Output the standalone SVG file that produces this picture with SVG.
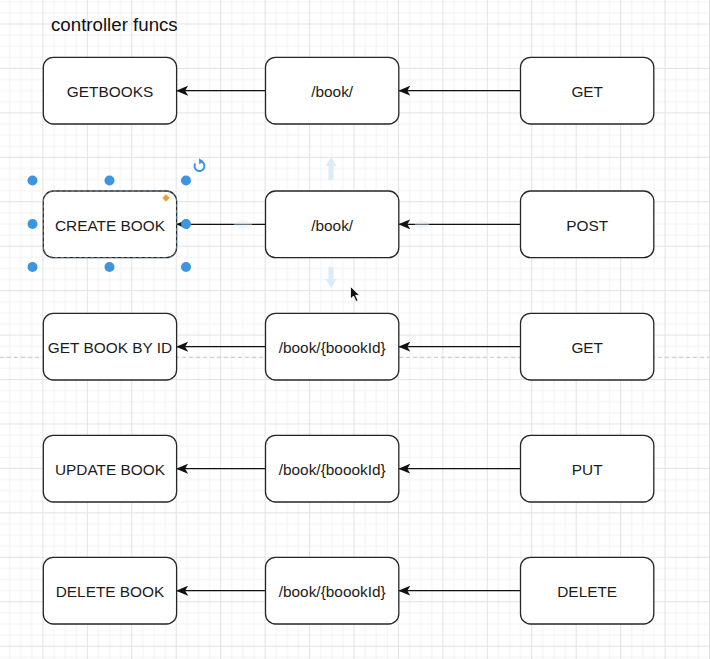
<svg xmlns="http://www.w3.org/2000/svg" width="710" height="659" viewBox="0 0 710 659">
  <style>
    .box { fill: #ffffff; stroke: #262626; stroke-width: 1.3; }
    .lbl { font-family: "Liberation Sans", Arial, sans-serif; font-size: 15.4px; fill: #1c1c1c; text-anchor: middle; }
    .title { font-family: "Liberation Sans", Arial, sans-serif; font-size: 18.7px; fill: #111111; }
    .edge { stroke: #111111; stroke-width: 1.3; fill: none; marker-end: url(#classic); }
    .handle { fill: #3d95e0; }
  </style>
  <defs>
    <!-- editor grid: minor every 11.11px, major every 44.44px -->
    <pattern id="grid" patternUnits="userSpaceOnUse" x="42.4" y="23.5" width="44.44" height="44.44">
      <rect x="0" y="0" width="44.44" height="44.44" fill="#ffffff"/>
      <g fill="#f3f3f3">
        <rect x="11.11" y="0" width="1" height="44.44"/>
        <rect x="22.22" y="0" width="1" height="44.44"/>
        <rect x="33.33" y="0" width="1" height="44.44"/>
        <rect x="0" y="11.11" width="44.44" height="1"/>
        <rect x="0" y="22.22" width="44.44" height="1"/>
        <rect x="0" y="33.33" width="44.44" height="1"/>
      </g>
      <g fill="#e3e3e3">
        <rect x="0" y="0" width="1" height="44.44"/>
        <rect x="0" y="0" width="44.44" height="1"/>
      </g>
    </pattern>
    <marker id="classic" viewBox="0 0 12 10" refX="11.5" refY="5" markerWidth="12" markerHeight="10" markerUnits="userSpaceOnUse" orient="auto">
      <path d="M0,0 L12,5 L0,10 L3,5 Z" fill="#111111"/>
    </marker>
  </defs>

  <!-- canvas -->
  <rect x="0" y="0" width="710" height="659" fill="url(#grid)"/>
  <!-- page break -->
  <line x1="0" y1="357.3" x2="710" y2="357.3" stroke="#c8c8c8" stroke-width="1" stroke-dasharray="4 3"/>

  <text class="title" x="51" y="30.5">controller funcs</text>

  <!-- connectors -->
  <g id="edges">
    <line class="edge" x1="520.5" y1="90.7" x2="398.8" y2="90.7"/>
    <line class="edge" x1="265.5" y1="90.7" x2="176.6" y2="90.7"/>
    <line class="edge" x1="520.5" y1="224.3" x2="398.8" y2="224.3"/>
    <line class="edge" x1="265.5" y1="224.3" x2="176.6" y2="224.3"/>
    <line class="edge" x1="520.5" y1="346.7" x2="398.8" y2="346.7"/>
    <line class="edge" x1="265.5" y1="346.7" x2="176.6" y2="346.7"/>
    <line class="edge" x1="520.5" y1="468.7" x2="398.8" y2="468.7"/>
    <line class="edge" x1="265.5" y1="468.7" x2="176.6" y2="468.7"/>
    <line class="edge" x1="520.5" y1="590.7" x2="398.8" y2="590.7"/>
    <line class="edge" x1="265.5" y1="590.7" x2="176.6" y2="590.7"/>
  </g>

  <!-- row 1 -->
  <g id="getbooks"><rect class="box" x="43.3" y="57.3" width="133.3" height="66.7" rx="10"/><text class="lbl" x="110" y="97.3">GETBOOKS</text></g>
  <g id="route1"><rect class="box" x="265.5" y="57.3" width="133.3" height="66.7" rx="10"/><text class="lbl" x="332.2" y="97.3">/book/</text></g>
  <g id="get1"><rect class="box" x="520.5" y="57.3" width="133.3" height="66.7" rx="10"/><text class="lbl" x="587.2" y="97.3">GET</text></g>

  <!-- row 2 -->
  <g id="createbook"><rect class="box" x="43.3" y="191" width="133.3" height="66.7" rx="10"/><text class="lbl" x="110" y="230.9">CREATE BOOK</text></g>
  <g id="route2"><rect class="box" x="265.5" y="191" width="133.3" height="66.7" rx="10"/><text class="lbl" x="332.2" y="230.9">/book/</text></g>
  <g id="post"><rect class="box" x="520.5" y="191" width="133.3" height="66.7" rx="10"/><text class="lbl" x="587.2" y="230.9">POST</text></g>

  <!-- row 3 -->
  <g id="getbookbyid"><rect class="box" x="43.3" y="313.3" width="133.3" height="66.7" rx="10"/><text class="lbl" x="110" y="353.3">GET BOOK BY ID</text></g>
  <g id="route3"><rect class="box" x="265.5" y="313.3" width="133.3" height="66.7" rx="10"/><text class="lbl" x="332.2" y="353.3">/book/{boookId}</text></g>
  <g id="get2"><rect class="box" x="520.5" y="313.3" width="133.3" height="66.7" rx="10"/><text class="lbl" x="587.2" y="353.3">GET</text></g>

  <!-- row 4 -->
  <g id="updatebook"><rect class="box" x="43.3" y="435.3" width="133.3" height="66.7" rx="10"/><text class="lbl" x="110" y="475.3">UPDATE BOOK</text></g>
  <g id="route4"><rect class="box" x="265.5" y="435.3" width="133.3" height="66.7" rx="10"/><text class="lbl" x="332.2" y="475.3">/book/{boookId}</text></g>
  <g id="put"><rect class="box" x="520.5" y="435.3" width="133.3" height="66.7" rx="10"/><text class="lbl" x="587.2" y="475.3">PUT</text></g>

  <!-- row 5 -->
  <g id="deletebook"><rect class="box" x="43.3" y="557.3" width="133.3" height="66.7" rx="10"/><text class="lbl" x="110" y="597.3">DELETE BOOK</text></g>
  <g id="route5"><rect class="box" x="265.5" y="557.3" width="133.3" height="66.7" rx="10"/><text class="lbl" x="332.2" y="597.3">/book/{boookId}</text></g>
  <g id="delete"><rect class="box" x="520.5" y="557.3" width="133.3" height="66.7" rx="10"/><text class="lbl" x="587.2" y="597.3">DELETE</text></g>

  <!-- selection overlay on CREATE BOOK -->
  <g id="selection">
    <rect x="43.3" y="191" width="133.3" height="66.7" rx="10" fill="none" stroke="#7fb8e6" stroke-width="1" stroke-dasharray="3 3" opacity="0.6"/>
    <circle class="handle" cx="32.5" cy="180.5" r="5"/>
    <circle class="handle" cx="109.5" cy="180.5" r="5"/>
    <circle class="handle" cx="186" cy="180.5" r="5"/>
    <circle class="handle" cx="32.5" cy="224" r="5"/>
    <circle class="handle" cx="186" cy="224" r="5"/>
    <circle class="handle" cx="32.5" cy="267" r="5"/>
    <circle class="handle" cx="109.5" cy="267" r="5"/>
    <circle class="handle" cx="186" cy="267" r="5"/>
    <!-- rotate handle -->
    <path d="M195.2,163.5 A5,5 0 1 0 200.5,161.2" fill="none" stroke="#3d95e0" stroke-width="2"/>
    <path d="M199,158.3 L203.6,161.3 L199.2,164.4 Z" fill="#3d95e0"/>
    <!-- style handle -->
    <path d="M166,194.3 L169.7,198 L166,201.7 L162.3,198 Z" fill="#f0a030"/>
  </g>

  <!-- hover connect arrows on /book/ -->
  <g id="hover" fill="#dbecf8">
    <path d="M331,157 L336.5,166 L333.5,166 L333.5,180 L328.5,180 L328.5,166 L325.5,166 Z"/>
    <path d="M331,288 L336.5,279 L333.5,279 L333.5,267 L328.5,267 L328.5,279 L325.5,279 Z"/>
    <ellipse cx="243" cy="224.3" rx="9" ry="4" opacity="0.45"/>
    <ellipse cx="422" cy="224.3" rx="7" ry="4" opacity="0.45"/>
  </g>

  <!-- pointer -->
  <path d="M350.5,286.5 L350.5,299 L353.5,296 L356,301.5 L358,300.6 L355.6,295.3 L359.6,295.3 Z" fill="#111111" stroke="#ffffff" stroke-width="0.8"/>
</svg>
